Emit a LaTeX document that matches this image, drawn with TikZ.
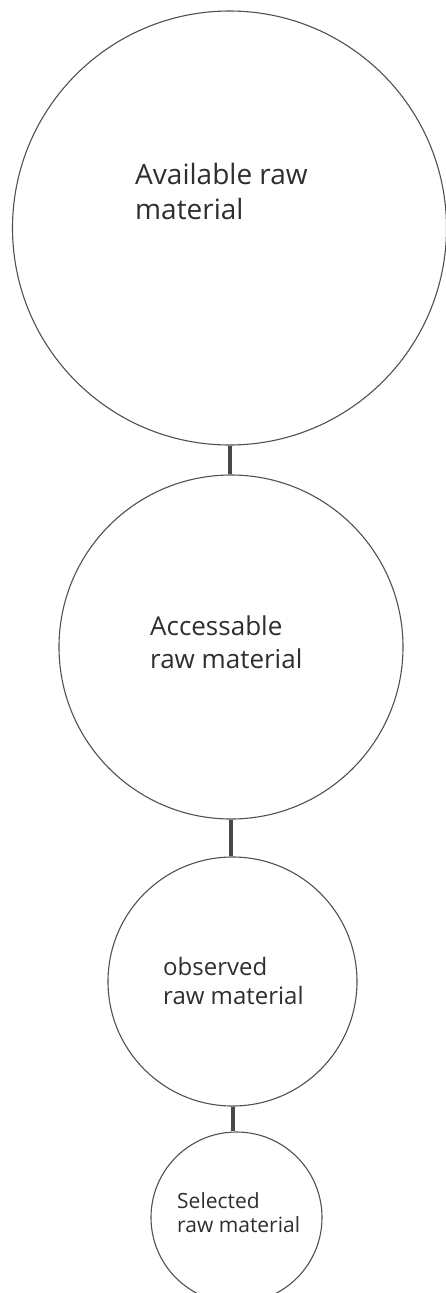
\documentclass[tikz,border=0pt]{standalone}
\usepackage{fontspec}
\setmainfont{Open Sans}
\usepackage{tikz}

\definecolor{rimgray}{HTML}{505050}
\definecolor{inkgray}{HTML}{2E2E2E}

\tikzset{
	stage/.style={circle, draw=rimgray, line width=1.1pt, inner sep=0pt},
	link/.style={draw=rimgray!90!black, line width=4pt},
	caption/.style={text=inkgray, align=left, inner sep=0pt, anchor=north west}
}

\begin{document}
\begin{tikzpicture}[x=1pt, y=-1pt]
		\useasboundingbox (0,0) rectangle (445,1293);
	
		% the four stages, largest on top
		\foreach \n/\cx/\cy/\r in {c1/229.5/228/217, c2/231/647/172, c3/232.5/981.5/124.5, c4/236.5/1217.5/85.5} {
			\node[stage, minimum size=2*\r] (\n) at (\cx,\cy) {};
		}
	
		\foreach \a/\b in {c1/c2, c2/c3, c3/c4} {
			\draw[link] (\a.south) -- (\a.south |- \b.north);
		}
	
		\node[caption, font=\fontsize{28}{35}\selectfont] (t1) at (135,163) {Available raw\\material};
		\node[caption, font=\fontsize{26}{33}\selectfont] (t2) at (150,616) {Accessable\\raw material};
		\node[caption, font=\fontsize{24}{29}\selectfont] (t3) at (163,957) {observed\\raw material};
		\node[caption, font=\fontsize{21}{24}\selectfont] (t4) at (177,1192) {Selected\\raw material};
	\end{tikzpicture}
\end{document}
